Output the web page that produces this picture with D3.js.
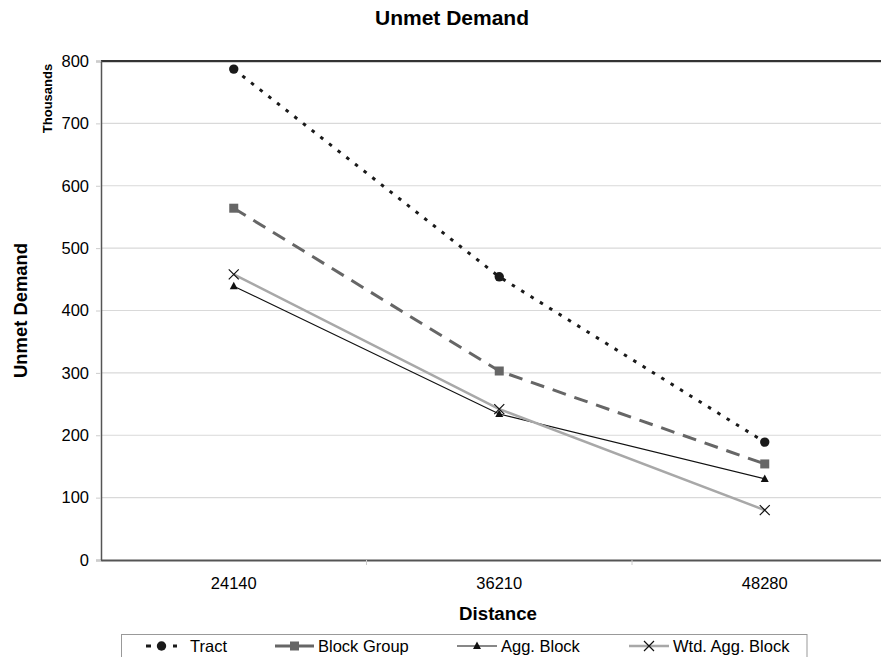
<!DOCTYPE html>
<html><head><meta charset="utf-8">
<script src="https://cdn.jsdelivr.net/npm/d3@7"></script>
<style>body{margin:0;background:#fff;font-family:Arial,"Liberation Sans",sans-serif}</style>
</head><body><svg id="c" width="881" height="657"></svg>
<script>
const categories = ["24140", "36210", "48280"];
const tract = [787, 454, 189];
const blockGroup = [564, 303, 154];
const aggBlock = [439, 234, 130];
const wtdAggBlock = [458, 242, 80];
const yTicks = [0, 100, 200, 300, 400, 500, 600, 700, 800];
const seriesNames = ["Tract", "Block Group", "Agg. Block", "Wtd. Agg. Block"];

const FONT = "Arial, 'Liberation Sans', sans-serif";
const series = [
  {name: seriesNames[0], values: tract, color: "#1a1a1a", width: 3, dash: "3.5,7.5", marker: "circle"},
  {name: seriesNames[1], values: blockGroup, color: "#666666", width: 3, dash: "14,9", marker: "square"},
  {name: seriesNames[2], values: aggBlock, color: "#111111", width: 1.2, dash: null, marker: "triangle"},
  {name: seriesNames[3], values: wtdAggBlock, color: "#a8a8a8", width: 2.5, dash: null, marker: "x"}
];

const svg = d3.select("#c").attr("font-family", FONT);
const L = 101, T = 61, B = 560, band = 265.5;
const x = d3.scaleBand().domain(categories).range([L, L + band * categories.length]).paddingInner(0).paddingOuter(0);
const y = d3.scaleLinear().domain([0, 800]).range([B, T]);
const R = L + band * categories.length;

// gridlines
svg.append("g").selectAll("line").data(yTicks.filter(d => d > 0 && d < 800)).join("line")
  .attr("x1", L).attr("x2", R).attr("y1", d => y(d)).attr("y2", d => y(d))
  .attr("stroke", "#d9d9d9").attr("stroke-width", 1.2);
// top border
svg.append("line").attr("x1", L).attr("x2", R).attr("y1", T + 1.5).attr("y2", T + 1.5).attr("stroke", "#d0d0d0").attr("stroke-width", 1);
svg.append("line").attr("x1", L).attr("x2", R).attr("y1", T).attr("y2", T).attr("stroke", "#333").attr("stroke-width", 2);

// y axis
const ya = svg.append("g").attr("transform", `translate(${L},0)`)
  .call(d3.axisLeft(y).tickValues(yTicks).tickSize(5).tickPadding(7));
ya.select(".domain").attr("stroke", "#555").attr("stroke-width", 1.5);
ya.selectAll(".tick line").attr("stroke", "#ccc");
ya.selectAll("text").attr("font-size", 16.5).attr("fill", "#000").attr("font-family", FONT);

// x axis
const xa = svg.append("g").attr("transform", `translate(0,${B})`)
  .call(d3.axisBottom(x).tickSize(0).tickPadding(17));
xa.select(".domain").attr("stroke", "#555").attr("stroke-width", 2);
xa.selectAll("text").attr("font-size", 16.5).attr("fill", "#000").attr("font-family", FONT);
svg.append("g").selectAll("line").data(categories.slice(1)).join("line")
  .attr("x1", d => x(d)).attr("x2", d => x(d)).attr("y1", B).attr("y2", B + 5)
  .attr("stroke", "#ccc");

// titles
svg.append("text").attr("x", 452).attr("y", 25).attr("text-anchor", "middle")
  .attr("font-size", 21).attr("font-weight", "bold").text("Unmet Demand");
svg.append("text").attr("x", 498).attr("y", 620).attr("text-anchor", "middle")
  .attr("font-size", 18.7).attr("font-weight", "bold").text("Distance");
svg.append("text").attr("transform", "translate(27,310.5) rotate(-90)").attr("text-anchor", "middle")
  .attr("font-size", 18.4).attr("font-weight", "bold").text("Unmet Demand");
svg.append("text").attr("transform", "translate(52,98.5) rotate(-90)").attr("text-anchor", "middle")
  .attr("font-size", 13).attr("font-weight", "bold").text("Thousands");

function drawMarker(g, type, cx, cy, color) {
  if (type === "circle") g.append("circle").attr("cx", cx).attr("cy", cy).attr("r", 4.7).attr("fill", color);
  else if (type === "square") g.append("rect").attr("x", cx - 4.5).attr("y", cy - 4.5).attr("width", 9).attr("height", 9).attr("fill", color);
  else if (type === "triangle") g.append("path").attr("d", `M${cx},${cy-4.5}L${cx+4},${cy+3}L${cx-4},${cy+3}Z`).attr("fill", color);
  else if (type === "x") g.append("path").attr("d", `M${cx-5},${cy-5}L${cx+5},${cy+5}M${cx-5},${cy+5}L${cx+5},${cy-5}`).attr("stroke", "#111").attr("stroke-width", 1.2).attr("fill", "none");
}

const line = d3.line().x((d, i) => x(categories[i]) + x.bandwidth() / 2).y(d => y(d));
series.forEach(s => {
  const g = svg.append("g");
  g.append("path").attr("d", line(s.values)).attr("fill", "none").attr("stroke", s.color)
    .attr("stroke-width", s.width).attr("stroke-dasharray", s.dash);
  s.values.forEach((v, i) => drawMarker(g, s.marker, x(categories[i]) + x.bandwidth() / 2, y(v), s.color));
});

// legend
const lg = svg.append("g");
lg.append("rect").attr("x", 121.5).attr("y", 634.5).attr("width", 685.5).attr("height", 24).attr("fill", "#fff").attr("stroke", "#999");
const legendPos = [{lx: 146, len: 31, tx: 190}, {lx: 275, len: 39, tx: 318}, {lx: 457, len: 40, tx: 501}, {lx: 629, len: 40, tx: 673}];
series.forEach((s, i) => {
  const p = legendPos[i], ly = 646;
  lg.append("line").attr("x1", p.lx).attr("x2", p.lx + p.len).attr("y1", ly).attr("y2", ly)
    .attr("stroke", s.color).attr("stroke-width", s.width).attr("stroke-dasharray", i === 0 ? "5,8.5" : null);
  drawMarker(lg, s.marker, p.lx + p.len / 2, ly, s.color);
  lg.append("text").attr("x", p.tx).attr("y", ly + 6).attr("font-size", 16.5).text(s.name);
});
</script></body></html>
